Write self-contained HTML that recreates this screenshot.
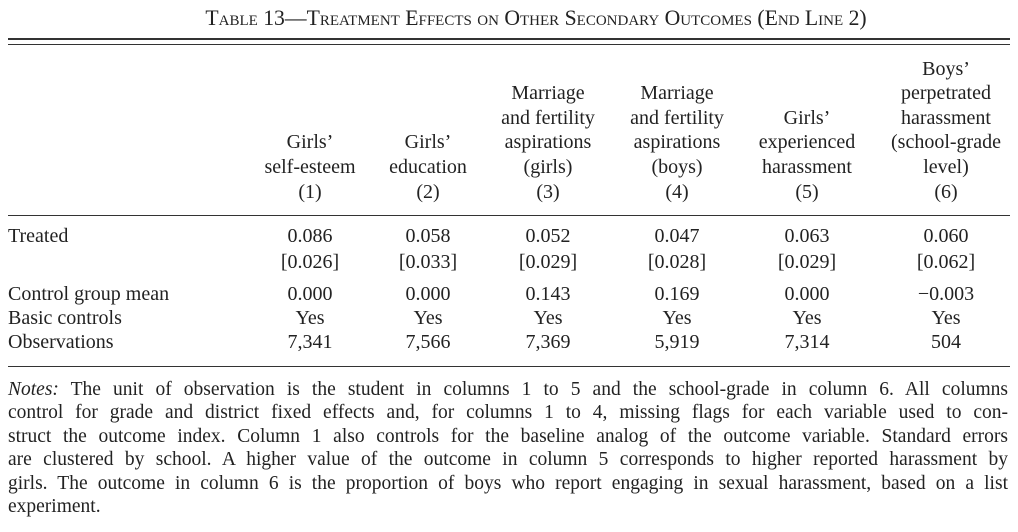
<!DOCTYPE html>
<html><head><meta charset="utf-8"><style>
body{margin:0;width:1018px;height:532px;background:#fff;position:relative;font-family:"Liberation Serif",serif;color:#222;overflow:hidden}
.t{position:absolute;line-height:24px;height:24px;font-size:20px;white-space:nowrap}
.c{transform:translateX(-50%);text-align:center}
.rule{position:absolute;left:8px;width:1002px;background:#333}
.n{position:absolute;left:8px;width:1000px;font-size:19.5px;line-height:24px;text-align:justify;text-align-last:justify;white-space:nowrap}
</style></head><body>
<div class="t c" style="left:536px;top:6px;font-size:21.7px;font-variant:small-caps">Table 13—Treatment Effects on Other Secondary Outcomes (End Line 2)</div>
<div class="rule" style="top:38px;height:2px"></div>
<div class="rule" style="top:44px;height:1px"></div>
<div class="rule" style="top:215px;height:1px"></div>
<div class="rule" style="top:366px;height:1px"></div>
<div id="tbl"></div>
<div>
<div class="n" style="top:378px"><i>Notes:</i> The unit of observation is the student in columns 1 to 5 and the school-grade in column 6. All columns</div>
<div class="n" style="top:401px">control for grade and district fixed effects and, for columns 1 to 4, missing flags for each variable used to con-</div>
<div class="n" style="top:425px">struct the outcome index. Column 1 also controls for the baseline analog of the outcome variable. Standard errors</div>
<div class="n" style="top:448px">are clustered by school. A higher value of the outcome in column 5 corresponds to higher reported harassment by</div>
<div class="n" style="top:472px">girls. The outcome in column 6 is the proportion of boys who report engaging in sexual harassment, based on a list</div>
<div class="n" style="top:495px;text-align-last:left">experiment.</div>
</div>
<script>
const colX=[310,428,548,677,807,946];
const headers=[["Girls’","self-esteem"],["Girls’","education"],["Marriage","and fertility","aspirations","(girls)"],["Marriage","and fertility","aspirations","(boys)"],["Girls’","experienced","harassment"],["Boys’","perpetrated","harassment","(school-grade","level)"]];
const colNums=["(1)","(2)","(3)","(4)","(5)","(6)"];
const treated=["0.086","0.058","0.052","0.047","0.063","0.060"];
const se=["[0.026]","[0.033]","[0.029]","[0.028]","[0.029]","[0.062]"];
const cmean=["0.000","0.000","0.143","0.169","0.000","−0.003"];
const controls=["Yes","Yes","Yes","Yes","Yes","Yes"];
const obs=["7,341","7,566","7,369","5,919","7,314","504"];
const tbl=document.getElementById('tbl');
function txt(s,x,cy,center,name){
 const d=document.createElement('div');
 d.className='t'+(center?' c':'');
 d.style.left=x+'px';d.style.top=(cy-12)+'px';d.textContent=s;
 
 
 tbl.appendChild(d);
}
const lh=24.6;
headers.forEach((h,i)=>{h.forEach((l,j)=>txt(l,colX[i],167-(h.length-1-j)*lh,true,'column-header'));});
colNums.forEach((s,i)=>txt(s,colX[i],192,true,'column-number'));
const rows=[["Treated",treated,236],["",se,262],["Control group mean",cmean,294],["Basic controls",controls,318],["Observations",obs,342]];
rows.forEach(r=>{if(r[0])txt(r[0],8,r[2],false,'row-label');r[1].forEach((v,i)=>txt(v,colX[i],r[2],true,'table-cell'));});
</script>
</body></html>
